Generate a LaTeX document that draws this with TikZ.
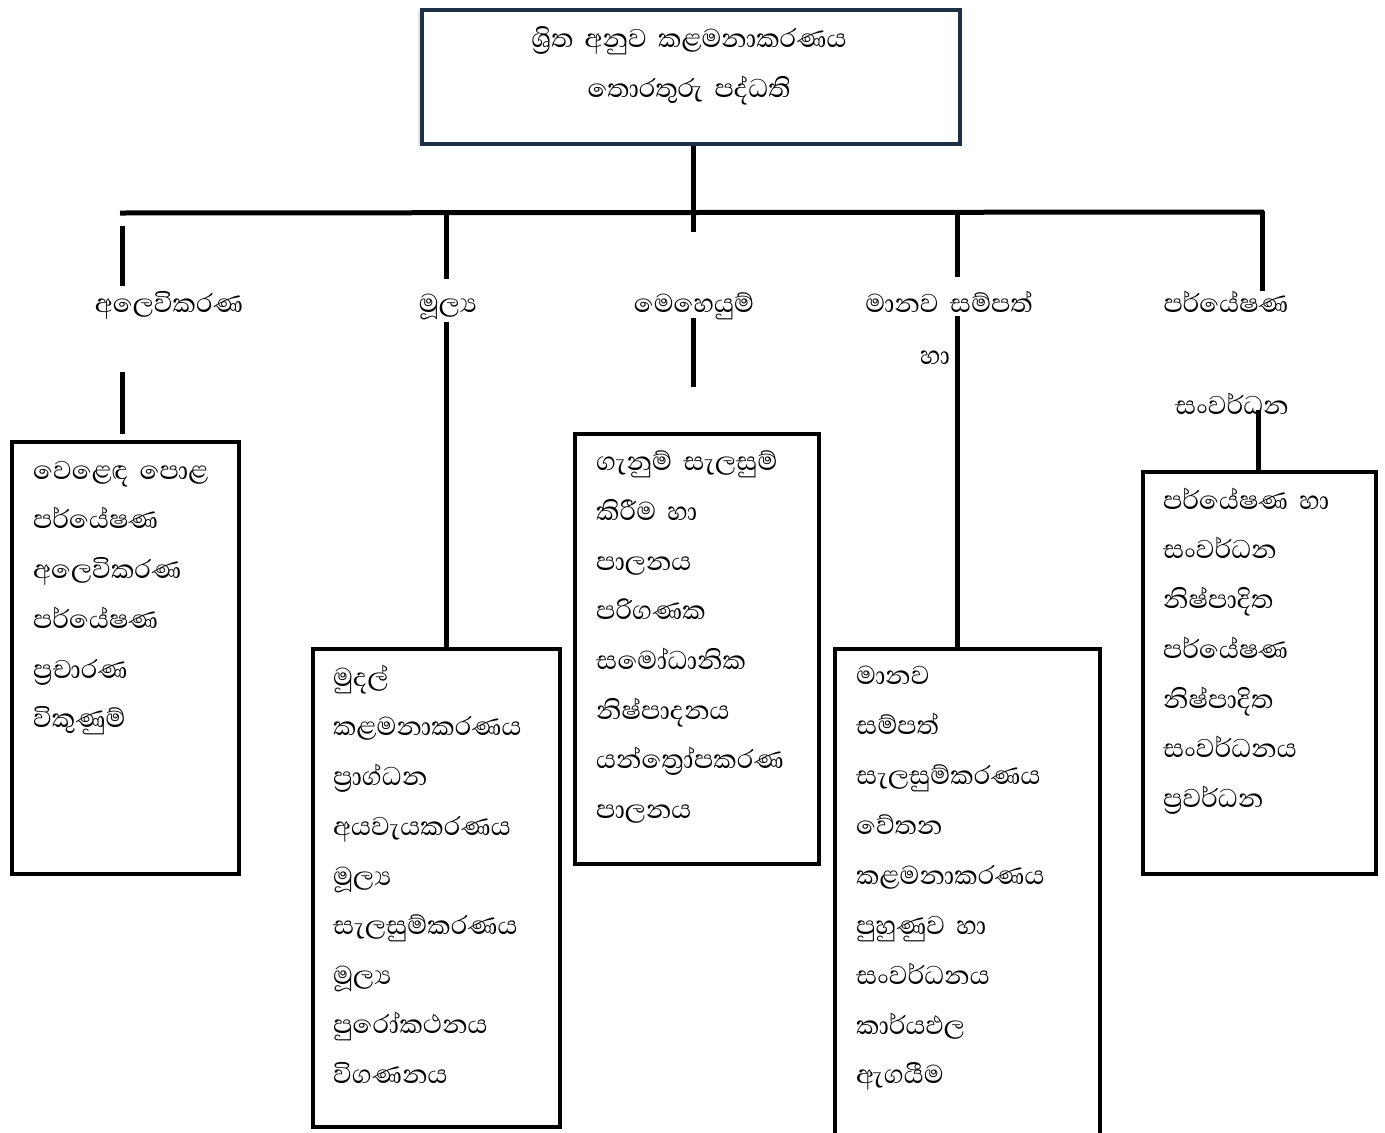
\documentclass[tikz,border=0pt]{standalone}
\usepackage{fontspec}
\newfontfamily\sinhfont[Script=Sinhala,WordSpace=1.8]{Abhaya Libre}
\definecolor{topnavy}{RGB}{28,48,74}
\begin{document}
\begin{tikzpicture}[x=1pt,y=-1pt,
  box/.style={draw=black,line width=4pt,inner sep=0pt,anchor=north west},
  conn/.style={line width=5pt},
  lbl/.style={font=\sinhfont\fontsize{33}{38}\selectfont,inner sep=0pt,anchor=base},
  item/.style={lbl,anchor=base west}]
\useasboundingbox (0,0) rectangle (1385,1133);
\fill[white] (0,0) rectangle (1385,1133);
% top box
\fill[black!10] (418,10) rectangle (961,146);
\node[box,draw=topnavy,minimum width=538pt,minimum height=134pt,fill=white] (top) at (420,8) {};
\node[lbl] (t1) at (689,47) {ශ්‍රිත අනුව කළමනාකරණය};
\node[lbl] (t2) at (689,97) {තොරතුරු පද්ධති};
% main connectors
\coordinate (hl) at (120,213);
\coordinate (hr) at (1264,212);
\coordinate (cdown) at (693,232);
\draw[conn] (top.south -| cdown) -- (cdown);
\draw[conn] (hl) -- (hr);
\coordinate (d1a) at (122,226); \coordinate (d1b) at (122,286);
\coordinate (d2a) at (446,213); \coordinate (d2b) at (446,279);
\coordinate (d4a) at (957,212); \coordinate (d4b) at (957,277);
\coordinate (d5a) at (1262,211); \coordinate (d5b) at (1262,291);
\draw[conn] (d1a) -- (d1b);
\draw[conn] (d2a) -- (d2b);
\draw[conn] (d4a) -- (d4b);
\draw[conn] (d5a) -- (d5b);
% level 2 labels
\node[lbl] (l1) at (169,312) {අලෙවිකරණ};
\node[lbl] (l2) at (448,312) {මූල්‍ය};
\node[lbl] (l3) at (694,312) {මෙහෙයුම්};
\node[lbl] (l4) at (949,312) {මානව සම්පත්};
\node[lbl] (l4b) at (935,364) {හා};
\node[lbl] (l5) at (1226,312) {පර්යේෂණ};
\node[lbl] (l5b) at (1232,414) {සංවර්ධන};
% boxes
\node[box,minimum width=227pt,minimum height=432pt] (b1) at (10,440) {};
\node[box,minimum width=247pt,minimum height=478pt] (b2) at (311,647) {};
\node[box,minimum width=244pt,minimum height=430pt] (b3) at (573,432) {};
\node[box,minimum width=265pt,minimum height=492pt] (b4) at (833,647) {};
\node[box,minimum width=233pt,minimum height=402pt] (b5) at (1141,470) {};
% lower connectors
\coordinate (e1a) at (122,372); \coordinate (e1b) at (122,434);
\coordinate (e2a) at (446,322);
\coordinate (e3a) at (693,318); \coordinate (e3b) at (693,387);
\coordinate (e4a) at (957,316);
\coordinate (e5a) at (1258,410);
\draw[conn] (e1a) -- (e1b);
\draw[conn] (e2a) -- (e2a |- b2.north);
\draw[conn] (e3a) -- (e3b);
\draw[conn] (e4a) -- (e4a |- b4.north);
\draw[conn] (e5a) -- (e5a |- b5.north);
% box 1 items
\node[item] (a1) at (33,479) {වෙළෙඳ පොළ};
\node[item] (a2) at (33,528) {පර්යේෂණ};
\node[item] (a3) at (33,578) {අලෙවිකරණ};
\node[item] (a4) at (33,628) {පර්යේෂණ};
\node[item] (a5) at (33,678) {ප්‍රචාරණ};
\node[item] (a6) at (33,727) {විකුණුම්};
% box 2 items
\node[item] (m1) at (333,686) {මුදල්};
\node[item] (m2) at (333,735) {කළමනාකරණය};
\node[item] (m3) at (333,785) {ප්‍රාග්ධන};
\node[item] (m4) at (333,835) {අයවැයකරණය};
\node[item] (m5) at (333,885) {මූල්‍ය};
\node[item] (m6) at (333,934) {සැලසුම්කරණය};
\node[item] (m7) at (333,984) {මූල්‍ය};
\node[item] (m8) at (333,1033) {පුරෝකථනය};
\node[item] (m9) at (333,1083) {විගණනය};
% box 3 items
\node[item] (o1) at (596,470) {ගැනුම් සැලසුම්};
\node[item] (o2) at (596,520) {කිරීම හා};
\node[item] (o3) at (596,570) {පාලනය};
\node[item] (o4) at (596,619) {පරිගණක};
\node[item] (o5) at (596,669) {සමෝධානික};
\node[item] (o6) at (596,719) {නිෂ්පාදනය};
\node[item] (o7) at (596,768) {යන්ත්‍රෝපකරණ};
\node[item] (o8) at (596,818) {පාලනය};
% box 4 items
\node[item] (h1) at (856,684) {මානව};
\node[item] (h2) at (856,734) {සම්පත්};
\node[item] (h3) at (856,784) {සැලසුම්කරණය};
\node[item] (h4) at (856,834) {වේතන};
\node[item] (h5) at (856,884) {කළමනාකරණය};
\node[item] (h6) at (856,934) {පුහුණුව හා};
\node[item] (h7) at (856,984) {සංවර්ධනය};
\node[item] (h8) at (856,1034) {කාර්යඵල};
\node[item] (h9) at (856,1083) {ඇගයීම};
% box 5 items
\node[item] (r1) at (1163,509) {පර්යේෂණ හා};
\node[item] (r2) at (1163,558) {සංවර්ධන};
\node[item] (r3) at (1163,608) {නිෂ්පාදිත};
\node[item] (r4) at (1163,658) {පර්යේෂණ};
\node[item] (r5) at (1163,708) {නිෂ්පාදිත};
\node[item] (r6) at (1163,757) {සංවර්ධනය};
\node[item] (r7) at (1163,807) {ප්‍රවර්ධන};
\end{tikzpicture}
\end{document}
